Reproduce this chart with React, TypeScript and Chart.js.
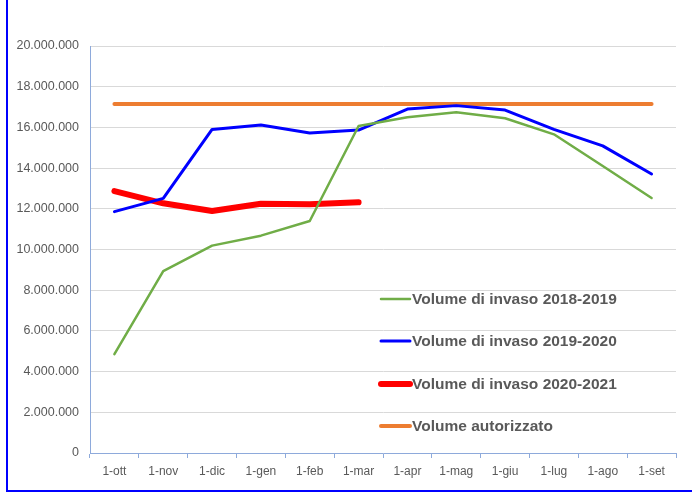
import React, { useEffect, useRef } from "react";
import { Chart, registerables } from "chart.js";

Chart.register(...registerables);

const categories = ["1-ott", "1-nov", "1-dic", "1-gen", "1-feb", "1-mar", "1-apr", "1-mag", "1-giu", "1-lug", "1-ago", "1-set"];
const vol2018 = [4860000, 8940000, 10190000, 10680000, 11400000, 16070000, 16500000, 16740000, 16450000, 15660000, 14100000, 12530000];
const vol2019 = [11860000, 12510000, 15900000, 16120000, 15720000, 15870000, 16900000, 17070000, 16850000, 15900000, 15090000, 13710000];
const vol2020 = [12870000, 12270000, 11890000, 12250000, 12220000, 12320000];
const volAut = [17150000, 17150000, 17150000, 17150000, 17150000, 17150000, 17150000, 17150000, 17150000, 17150000, 17150000, 17150000];
const seriesNames = ["Volume di invaso 2018-2019", "Volume di invaso 2019-2020", "Volume di invaso 2020-2021", "Volume autorizzato"];
const seriesColors = ["#70ad47", "#0000ff", "#ff0000", "#ed7d31"];
const seriesWidths = [2.5, 3, 6, 4];

const fmt = (v: number) => {
  if (v === 0) return "0";
  return Math.round(v).toString().replace(/\B(?=(\d{3})+(?!\d))/g, ".");
};

const legendPlugin = {
  id: "insideLegend",
  afterDraw(chart: any) {
    const { ctx, chartArea } = chart;
    const x0 = chartArea.left + 290;
    const ys = [299, 341, 384, 426];
    ctx.save();
    ctx.font = "bold 15.5px 'Liberation Sans', Arial, sans-serif";
    ctx.textBaseline = "middle";
    ctx.textAlign = "left";
    seriesNames.forEach((name, i) => {
      const y = ys[i];
      ctx.strokeStyle = seriesColors[i];
      ctx.lineWidth = seriesWidths[i];
      ctx.lineCap = "round";
      ctx.beginPath();
      ctx.moveTo(x0 + 1, y);
      ctx.lineTo(x0 + 30, y);
      ctx.stroke();
      ctx.fillStyle = "#595959";
      ctx.fillText(name, x0 + 32, y + 1);
    });
    ctx.restore();
  },
};

export default function App() {
  const ref = useRef<HTMLCanvasElement>(null);
  useEffect(() => {
    document.body.style.margin = "0";
    document.body.style.overflow = "hidden";
    const data = [vol2018, vol2019, vol2020, volAut];
    const chart = new Chart(ref.current!, {
      type: "line",
      data: {
        labels: categories,
        datasets: seriesNames.map((name, i) => ({
          label: name,
          data: data[i],
          borderColor: seriesColors[i],
          backgroundColor: seriesColors[i],
          borderWidth: seriesWidths[i],
          pointRadius: 0,
          tension: 0,
          borderCapStyle: "round",
          borderJoinStyle: "round",
          fill: false,
        })),
      },
      options: {
        responsive: false,
        animation: false,
        layout: { padding: { left: 0, right: 16, top: 46, bottom: 0 } },
        plugins: { legend: { display: false }, tooltip: { enabled: false } },
        scales: {
          x: {
            offset: true,
            grid: { offset: true, drawOnChartArea: false, drawTicks: true, tickLength: 5, color: "#8eaadb" },
            border: { color: "#8eaadb", width: 1 },
            ticks: { color: "#595959", font: { family: "'Liberation Sans', Arial, sans-serif", size: 12 }, padding: 6, maxRotation: 0, autoSkip: false },
            afterFit: (s: any) => { s.height = 44; },
          },
          y: {
            min: 0,
            max: 20000000,
            grid: { color: "#d9d9d9", drawTicks: false },
            border: { color: "#8eaadb", width: 1 },
            ticks: { stepSize: 2000000, color: "#595959", padding: 11, font: { family: "'Liberation Sans', Arial, sans-serif", size: 12.5 }, callback: (v: any) => fmt(Number(v)) },
            afterFit: (s: any) => { s.width = 90; },
          },
        },
      },
      plugins: [legendPlugin],
    });
    return () => chart.destroy();
  }, []);
  return (
    <div style={{ position: "relative", width: 692, height: 497, background: "#fff" }}>
      <canvas ref={ref} width={692} height={497} style={{ display: "block" }} />
      <div style={{ position: "absolute", left: 6, top: 0, width: 2, height: 492, background: "#0000ff" }} />
      <div style={{ position: "absolute", left: 6, top: 490, width: 686, height: 2, background: "#0000ff" }} />
    </div>
  );
}
